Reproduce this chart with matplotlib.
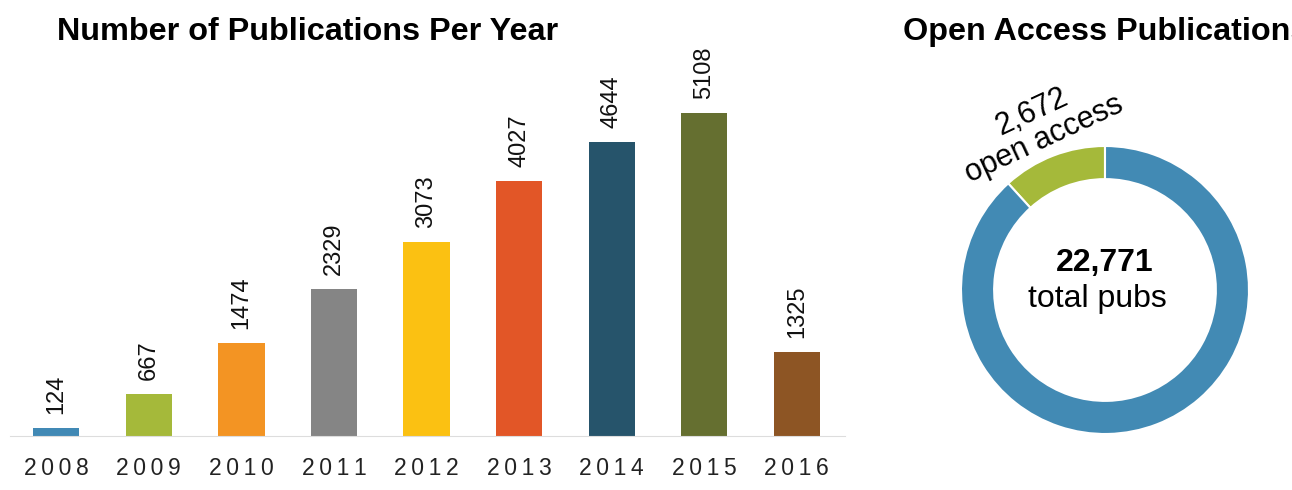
import matplotlib.pyplot as plt

plt.rcParams['font.family'] = ['Liberation Sans', 'DejaVu Sans']

years = ['2008', '2009', '2010', '2011', '2012', '2013', '2014', '2015', '2016']
pubs = [124, 667, 1474, 2329, 3073, 4027, 4644, 5108, 1325]
bar_colors = ['#4189b5', '#a5b93a', '#f39423', '#858585', '#fbc112',
              '#e25627', '#26546b', '#656f30', '#8d5524']

open_access = 2672
total_pubs = 22771
donut_colors = ['#a5b93a', '#428ab4']

W, H = 1292, 490
fig = plt.figure(figsize=(W / 100, H / 100), dpi=100)

# bar chart
ax = fig.add_axes([10 / W, 54 / H, 835 / W, 376 / H])
x = range(len(years))
ax.bar(x, pubs, width=0.5, color=bar_colors)
for i, v in enumerate(pubs):
    ax.annotate(str(v), (i, v), xytext=(0, 10), textcoords='offset points',
                rotation=90, ha='center', va='bottom', fontsize=17, color='#111111')
ax.set_xlim(-0.5, 8.52)
ax.set_ylim(0, 5946)
ax.set_xticks(list(x))
# letter-spaced year labels
ax.set_xticklabels(['\u2009'.join(y) for y in years], fontsize=16.5, color='#222222')
ax.tick_params(axis='x', length=0, pad=15)
ax.set_yticks([])
for s in ['top', 'right', 'left']:
    ax.spines[s].set_visible(False)
ax.spines['bottom'].set_color('#dddddd')
fig.text(57 / W, 1 - 32 / H, 'Number of Publications Per Year', fontsize=23.3,
         fontweight='bold', va='center', ha='left')

# donut
ax2 = fig.add_axes([961 / W, 56 / H, 288 / W, 288 / H])
ax2.pie([open_access, total_pubs - open_access], colors=donut_colors,
        startangle=90, counterclock=True, radius=1,
        wedgeprops=dict(width=0.23, edgecolor='white', linewidth=1.5))
ax2.set_xlim(-1, 1)
ax2.set_ylim(-1, 1)
ax2.set_aspect('equal')
ax2.axis('off')
ax2.text(0, 0.19, f'{total_pubs:,}', ha='center', va='center', fontsize=23, fontweight='bold')
ax2.text(-0.05, -0.06, 'total pubs', ha='center', va='center', fontsize=23)
fig.text(1038 / W, 1 - 126 / H, f'{open_access:,}\nopen access', rotation=25,
         ha='center', va='center', fontsize=22, linespacing=1.0,
         rotation_mode='anchor')
fig.text(903 / W, 1 - 32 / H, 'Open Access Publications', fontsize=23.3,
         fontweight='bold', va='center', ha='left')

fig.savefig('out.png', dpi=100)
